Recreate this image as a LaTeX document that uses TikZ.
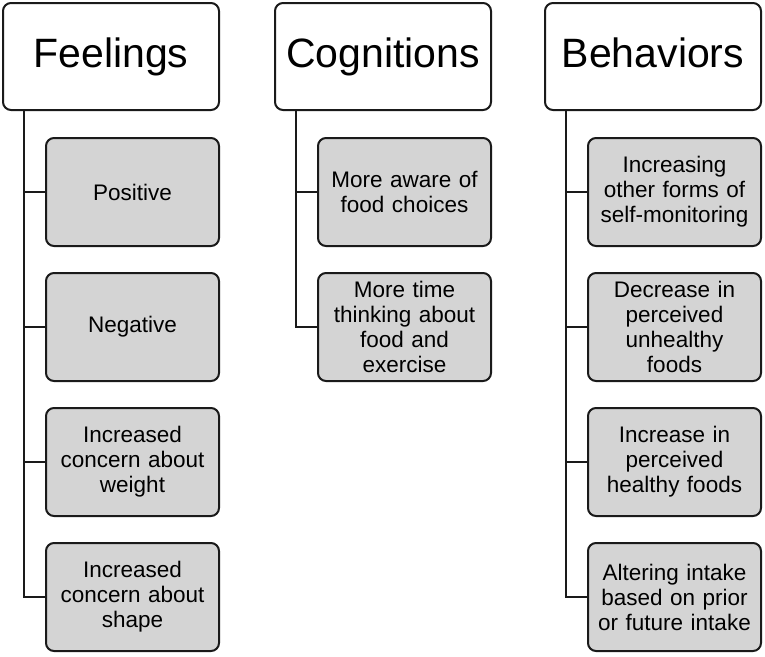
\documentclass[tikz,border=0pt]{standalone}
\usepackage{fontspec}
\setmainfont{Liberation Sans}
\usetikzlibrary{positioning}
\definecolor{cfill}{HTML}{D4D4D4}
\definecolor{cline}{HTML}{1A1A1A}
\tikzset{
  every picture/.style={line width=2pt, x=1pt, y=-1pt},
  head/.style={draw=cline, fill=white, rounded corners=8pt, minimum width=216pt, minimum height=107pt, text height=30pt, text depth=9pt, font=\fontsize{41}{46}\selectfont},
  item/.style={draw=cline, fill=cfill, rounded corners=8pt, minimum width=173pt, minimum height=108pt, text width=168pt, align=center, inner sep=0pt, font=\fontsize{22.5}{25}\selectfont},
  link/.style={draw=cline, line width=2pt},
}
\begin{document}
\begin{tikzpicture}
  \useasboundingbox (0,0) rectangle (765,656);
  % headers
  \node[head] (fh) at (111,56.5) {Feelings};
  \node[head] (ch) at (383,56.5) {Cognitions};
  \node[head] (bh) at (653,56.5) {Behaviors};
  % feelings
  \node[item] (f1) at (132.5,192) {Positive};
  \node[item] (f2) at (132.5,327) {Negative};
  \node[item] (f3) at (132.5,462) {Increased\\concern about\\weight};
  \node[item] (f4) at (132.5,597) {Increased\\concern about\\shape};
  % cognitions
  \node[item] (c1) at (404.5,192) {More aware of\\food choices};
  \node[item] (c2) at (404.5,327) {More time\\thinking about\\food and\\exercise};
  % behaviors
  \node[item] (b1) at (674.5,192) {Increasing\\other forms of\\self-monitoring};
  \node[item] (b2) at (674.5,327) {Decrease in\\perceived\\unhealthy\\foods};
  \node[item] (b3) at (674.5,462) {Increase in\\perceived\\healthy foods};
  \node[item] (b4) at (674.5,597) {Altering intake\\based on prior\\or future intake};
  % trunks
  \foreach \n in {f1,f2,f3,f4} \draw[link] ([xshift=22pt]fh.south west) |- (\n.west);
  \foreach \n in {c1,c2} \draw[link] ([xshift=22pt]ch.south west) |- (\n.west);
  \foreach \n in {b1,b2,b3,b4} \draw[link] ([xshift=22pt]bh.south west) |- (\n.west);
\end{tikzpicture}
\end{document}
